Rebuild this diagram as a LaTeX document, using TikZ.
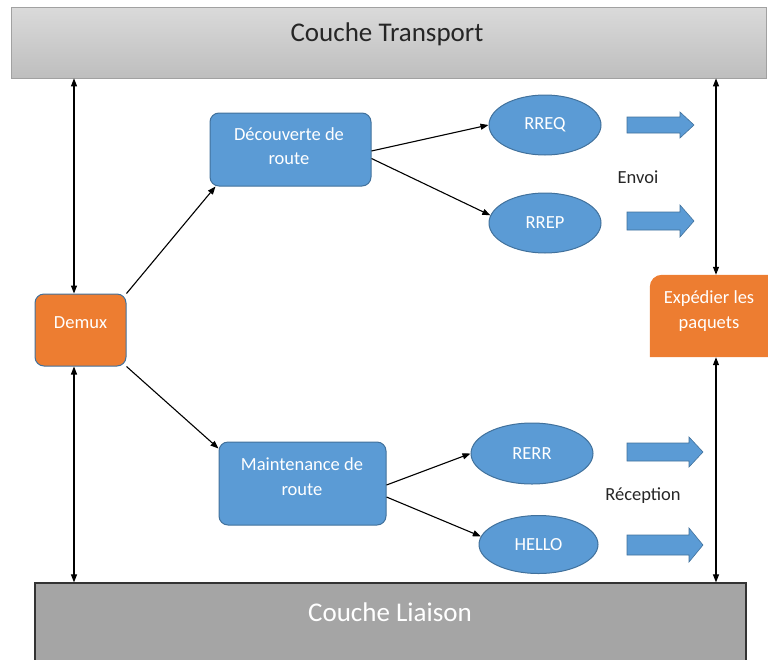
\documentclass[tikz,border=0pt]{standalone}
\usepackage{fontspec}
\setmainfont{Carlito}
\usetikzlibrary{arrows.meta,shapes.geometric}
\definecolor{boxblue}{HTML}{5B9BD5}
\definecolor{edgeblue}{HTML}{41719C}
\definecolor{boxorange}{HTML}{ED7D31}
\definecolor{transtop}{HTML}{DADADA}
\definecolor{transbot}{HTML}{BEBEBE}
\definecolor{liaison}{HTML}{A5A5A5}
\tikzset{
  txt/.style={font=\fontsize{18.5}{24.5}\selectfont},
  procbox/.style={draw=edgeblue, line width=1pt, fill=boxblue,
    rounded corners=9pt, inner sep=0pt},
  boxlbl/.style={txt, text=white, align=center},
  msg/.style={txt, ellipse, draw=edgeblue, line width=1pt, fill=boxblue, text=white,
    inner sep=0pt, minimum width=112pt, minimum height=60pt},
  % block arrow: total length / body half-height / head half-height
  pics/flowarrow/.style n args={3}{code={
    \filldraw[fill=boxblue, draw=edgeblue, line width=0.6pt]
      (0,-#2) -- (#1-14,-#2) -- (#1-14,-#3) -- (#1,0) -- (#1-14,#3) -- (#1-14,#2) -- (0,#2) -- cycle;
  }},
  link/.style={line width=1.1pt, -{Triangle[length=8pt,width=6pt]}},
  dbl/.style={line width=1.1pt, {Triangle[length=8pt,width=6pt]}-{Triangle[length=8pt,width=6pt]}},
}
\begin{document}
\begin{tikzpicture}[x=1pt,y=-1pt]
\useasboundingbox (0,0) rectangle (768,659);
\clip (0,0) rectangle (768,659);

% layers
\node[draw=transbot!85!black, line width=0.8pt, top color=transtop, bottom color=transbot,
  minimum width=755pt, minimum height=71pt, inner sep=0pt] (transport) at (388.5,42.5) {};
\node[font=\fontsize{27}{30}\selectfont, text=black!85] (transportlbl) at (387,34) {Couche Transport};
\node[draw=black!80, line width=1.2pt, fill=liaison, minimum width=711pt, minimum height=90pt,
  inner sep=0pt] (liaison) at (390.5,628) {};
\node[font=\fontsize{27}{30}\selectfont, text=white] (liaisonlbl) at (390,612) {Couche Liaison};

% processing blocks
\node[procbox, fill=boxorange, minimum width=91pt, minimum height=72pt] (demux) at (80.5,330) {};
\node[boxlbl] (demuxlbl) at (80.5,323) {Demux};
\node[procbox, minimum width=161pt, minimum height=73pt] (decouv) at (290.5,149.5) {};
\node[boxlbl] (decouvlbl) at (289,146) {Découverte de\\route};
\node[procbox, minimum width=167pt, minimum height=83pt] (maint) at (302.5,483.5) {};
\node[boxlbl] (maintlbl) at (302,476.5) {Maintenance de\\route};

% messages
\node[msg] (rreq) at (545,125) {RREQ};
\node[msg] (rrep) at (545,223) {RREP};
\node[msg, minimum width=122pt, minimum height=61pt] (rerr) at (532,453.5) {RERR};
\node[msg, minimum width=119pt, minimum height=58pt] (hello) at (538.5,544.5) {HELLO};

% direction arrows
\pic (fa) at (627,125) {flowarrow={67}{8}{13}};
\pic (fb) at (627,221) {flowarrow={67}{9}{16}};
\pic (fc) at (627,452) {flowarrow={76}{9}{15}};
\pic (fd) at (627,545) {flowarrow={76}{10}{17}};
\node[txt, text=black!85] (envoi) at (638,177) {Envoi};
\node[txt, text=black!85] (recep) at (643,496) {Réception};

% forwarding block, rounded at its upper left corner only
\node[minimum width=118pt, minimum height=82pt, inner sep=0pt] (exped) at (709,316) {};
\fill[boxorange] (exped.south west) -- ([yshift=-12pt]exped.north west)
  arc[start angle=180, end angle=270, radius=12] -- (exped.north east) -- (exped.south east) -- cycle;
\node[boxlbl] (expedlbl) at (709,311) {Expédier les\\paquets};

% links between blocks
\draw[link] (demux.north east) -- ([xshift=6pt]decouv.south west);
\draw[link] (demux.south east) -- ([yshift=-7pt]maint.north west);
\draw[link] ([yshift=-1.5pt]decouv.east) -- (rreq.west);
\draw[link] ([yshift=-9pt]decouv.east) -- (rrep.172);
\draw[link] ([yshift=-1.5pt]maint.east) -- (rerr.west);
\draw[link] ([yshift=-13.5pt]maint.east) -- (hello.172);

% vertical exchanges with the layers
\draw[dbl] ([xshift=-6.5pt]demux.north |- transport.south) -- ([xshift=-6.5pt]demux.north);
\draw[dbl] ([xshift=-6.5pt]demux.south) -- ([xshift=-6.5pt]demux.south |- liaison.north);
\draw[dbl] ([xshift=7pt]exped.north |- transport.south) -- ([xshift=7pt]exped.north);
\draw[dbl] ([xshift=7pt]exped.south) -- ([xshift=7pt]exped.south |- liaison.north);
\end{tikzpicture}
\end{document}
